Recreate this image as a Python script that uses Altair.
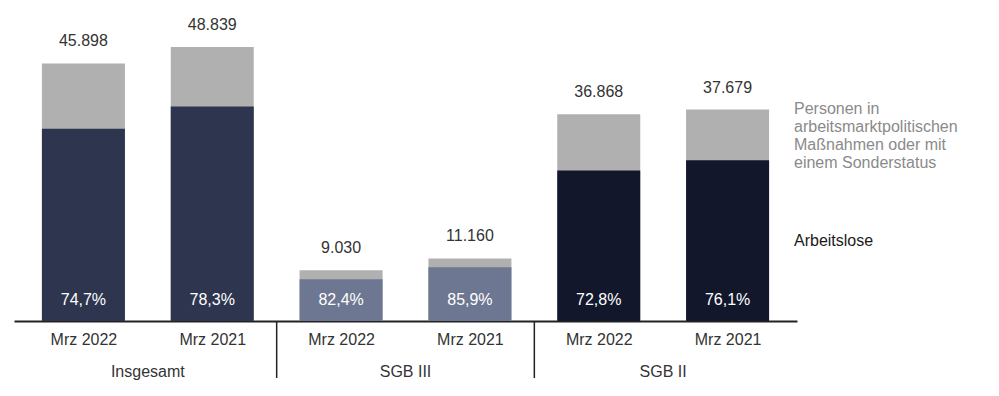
import json
import altair as alt
import pandas as pd

groups = ["Insgesamt", "Insgesamt", "SGB III", "SGB III", "SGB II", "SGB II"]
months = ["Mrz 2022", "Mrz 2021", "Mrz 2022", "Mrz 2021", "Mrz 2022", "Mrz 2021"]
totals = [45898, 48839, 9030, 11160, 36868, 37679]
shares = [74.7, 78.3, 82.4, 85.9, 72.8, 76.1]
group_names = ["Insgesamt", "SGB III", "SGB II"]
group_colors = ["#2d354f", "#6d7791", "#12172b"]
legend_other = "Personen in\narbeitsmarktpolitischen\nMaßnahmen oder mit\neinem Sonderstatus"
legend_arbeitslose = "Arbeitslose"

FONT = "Liberation Sans"
W, H = 783, 313

df = pd.DataFrame({"group": groups, "month": months, "total": totals, "share": shares})
df["idx"] = range(len(df))
df["arbeitslose"] = df["total"] * df["share"] / 100
df["total_label"] = [f"{v:,}".replace(",", ".") for v in totals]
df["share_label"] = [f"{s:.1f}%".replace(".", ",") for s in shares]

# group centres and separators derived from the data order
gdf = df.groupby("group", sort=False)["idx"].agg(["min", "max"]).reset_index()
gdf["center"] = (gdf["min"] + gdf["max"]) / 2
seps = pd.DataFrame({"sep": [(gdf["max"].iloc[i] + gdf["min"].iloc[i + 1]) / 2 for i in range(len(gdf) - 1)]})

last = df.iloc[-1]
leg_o = pd.DataFrame({"label": [legend_other], "x": [last["idx"] + 0.5],
                      "y": [(last["total"] + last["arbeitslose"]) / 2]})
leg_a = pd.DataFrame({"label": [legend_arbeitslose], "x": [last["idx"] + 0.5],
                      "y": [last["arbeitslose"] / 2]})
n_lines = legend_other.count("\n") + 1

xscale = alt.Scale(domain=[-0.5, len(df) - 0.5], nice=False, zero=False)
yscale = alt.Scale(domain=[0, 55790], nice=False)

x_axis = alt.Axis(
    values=list(range(len(df))),
    labelExpr=json.dumps(months) + "[datum.value]",
    title=None, grid=False, ticks=False,
    domainColor="#222222", domainWidth=2,
    labelFont=FONT, labelFontSize=16, labelColor="#333333", labelPadding=10,
)

base = alt.Chart(df)

gray = base.mark_bar(size=83, color="#b0b0b0").encode(
    x=alt.X("idx:Q", scale=xscale, axis=x_axis),
    y=alt.Y("total:Q", scale=yscale, axis=None),
)
dark = base.mark_bar(size=83).encode(
    x=alt.X("idx:Q", scale=xscale),
    y=alt.Y("arbeitslose:Q", scale=yscale),
    color=alt.Color("group:N", scale=alt.Scale(domain=group_names, range=group_colors), legend=None),
)
tot_txt = base.mark_text(font=FONT, fontSize=16, color="#333333", baseline="middle", dy=-22).encode(
    x=alt.X("idx:Q", scale=xscale),
    y=alt.Y("total:Q", scale=yscale),
    text="total_label:N",
)
pct_txt = base.mark_text(font=FONT, fontSize=16, color="#ffffff", baseline="middle", dy=-21).encode(
    x=alt.X("idx:Q", scale=xscale),
    y=alt.datum(0, scale=yscale),
    text="share_label:N",
)
grp_txt = alt.Chart(gdf).mark_text(font=FONT, fontSize=16, color="#333333", baseline="middle").encode(
    x=alt.X("center:Q", scale=xscale),
    y=alt.value(H + 51),
    text="group:N",
)
sep_rule = alt.Chart(seps).mark_rule(color="#222222", strokeWidth=1.5).encode(
    x=alt.X("sep:Q", scale=xscale),
    y=alt.value(H),
    y2=alt.value(H + 57),
)
leg_o_txt = alt.Chart(leg_o).mark_text(
    font=FONT, fontSize=16, align="left", baseline="middle", dx=2, dy=-(n_lines - 1) * 18 / 2 + 1,
    lineBreak="\n", lineHeight=18, color="#8a8a8a",
).encode(
    x=alt.X("x:Q", scale=xscale),
    y=alt.Y("y:Q", scale=yscale),
    text="label:N",
)
leg_a_txt = alt.Chart(leg_a).mark_text(
    font=FONT, fontSize=16, align="left", baseline="middle", dx=2, color="#1a1a1a",
).encode(
    x=alt.X("x:Q", scale=xscale),
    y=alt.Y("y:Q", scale=yscale),
    text="label:N",
)

chart = alt.layer(gray, dark, tot_txt, pct_txt, grp_txt, sep_rule, leg_o_txt, leg_a_txt).properties(
    width=W, height=H,
    autosize=alt.AutoSizeParams(type="none"),
    padding={"left": 6, "top": 0, "right": 194, "bottom": 67},
).configure_view(stroke=None)

chart.save("out.html", embed_options={"renderer": "svg", "actions": False})
